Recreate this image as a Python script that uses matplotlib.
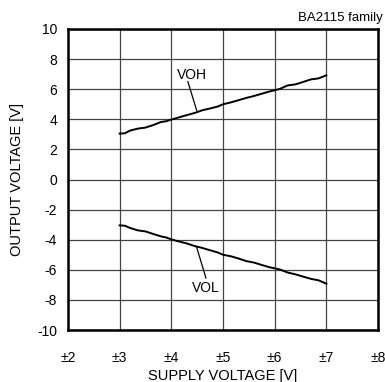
import matplotlib
matplotlib.use("Agg")
import matplotlib.pyplot as plt

plt.rcParams["font.family"] = ["Liberation Sans", "DejaVu Sans"]
plt.rcParams["axes.unicode_minus"] = False

# supply voltage (+/-V) and output swing
supply_v = [3.0, 3.1, 3.2, 3.35, 3.5, 3.65, 3.8, 3.9, 4.0, 4.15, 4.3, 4.45,
            4.6, 4.75, 4.9, 5.0, 5.15, 5.3, 5.45, 5.6, 5.75, 5.9, 6.0, 6.1,
            6.25, 6.4, 6.55, 6.7, 6.85, 7.0]
voh = [3.05, 3.07, 3.25, 3.38, 3.45, 3.62, 3.82, 3.87, 3.98, 4.13, 4.28, 4.42,
       4.6, 4.72, 4.85, 5.0, 5.12, 5.27, 5.42, 5.55, 5.7, 5.85, 5.93, 6.02,
       6.25, 6.32, 6.48, 6.65, 6.72, 6.92]
vol = [-3.05, -3.07, -3.22, -3.38, -3.45, -3.62, -3.78, -3.85, -3.98, -4.12, -4.25, -4.42,
       -4.55, -4.7, -4.85, -5.0, -5.1, -5.25, -5.42, -5.52, -5.68, -5.83, -5.9, -5.98,
       -6.18, -6.3, -6.45, -6.6, -6.7, -6.92]

x_ticks = [2, 3, 4, 5, 6, 7, 8]
x_tick_labels = ["±2", "±3", "±4", "±5", "±6", "±7", "±8"]
y_ticks = [-10, -8, -6, -4, -2, 0, 2, 4, 6, 8, 10]

fig = plt.figure(figsize=(3.85, 3.82), dpi=100)
ax = fig.add_axes([68 / 385, 52 / 382, 310 / 385, 301 / 382])

ax.plot(supply_v, voh, color="black", linewidth=1.4, solid_joinstyle="round")
ax.plot(supply_v, vol, color="black", linewidth=1.4, solid_joinstyle="round")

# leader lines and curve names
ax.plot([4.32, 4.49], [6.5, 4.6], color="black", linewidth=0.9)
ax.text(4.4, 6.95, "VOH", ha="center", va="center", fontsize=10)
ax.plot([4.49, 4.67], [-4.5, -6.55], color="black", linewidth=0.9)
ax.text(4.66, -7.2, "VOL", ha="center", va="center", fontsize=10)

ax.set_xlim(2, 8)
ax.set_ylim(-10, 10)
ax.set_xticks(x_ticks)
ax.set_xticklabels(x_tick_labels)
ax.set_yticks(y_ticks)
ax.tick_params(length=0, labelsize=10)
ax.tick_params(axis="y", pad=8)
ax.tick_params(axis="x", pad=15)
ax.grid(True, color="#444444", linewidth=0.9)
ax.set_axisbelow(True)
for spine in ax.spines.values():
    spine.set_linewidth(1.8)
    spine.set_color("black")

ax.set_xlabel("SUPPLY VOLTAGE [V]", fontsize=10.5, labelpad=3)
ax.set_ylabel("OUTPUT VOLTAGE [V]", fontsize=10.5, labelpad=9)
fig.text(383 / 385, 1 - 18 / 382, "BA2115 family", ha="right", va="center", fontsize=9.5)

fig.savefig("out.png", dpi=100)
